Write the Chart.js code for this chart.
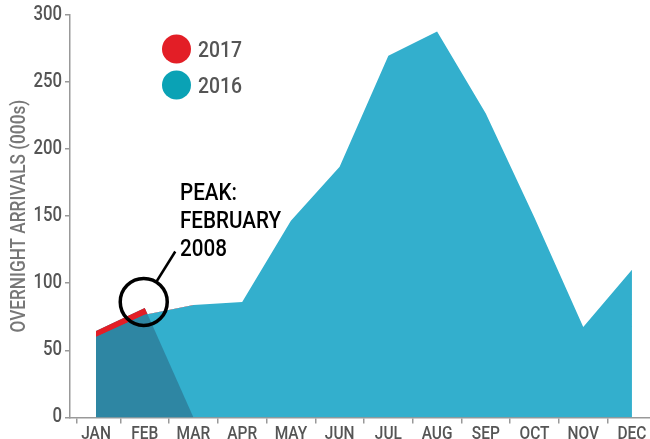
<!DOCTYPE html>
<html>
<head>
<meta charset="utf-8">
<script src="https://cdn.jsdelivr.net/npm/chart.js@4/dist/chart.umd.min.js"></script>
<style>
html,body{margin:0;padding:0;background:#fff;overflow:hidden;}
#wrap{width:650px;height:439px;position:relative;}
</style>
</head>
<body>
<div id="wrap"><canvas id="c" width="650" height="439"></canvas></div>
<script>
const months = ['JAN','FEB','MAR','APR','MAY','JUN','JUL','AUG','SEP','OCT','NOV','DEC'];
const arrivals2016 = [60, 76.5, 83.8, 86, 146.5, 186.7, 269.4, 287.5, 226.5, 148.7, 67.4, 110];
const arrivals2017 = [64.5, 81.6, 0];
const yTicks = [0, 50, 100, 150, 200, 250, 300];
const xBoundaryTicks = [-0.39, 0.5, 1.5, 2.5, 3.5, 4.5, 5.5, 6.5, 7.5, 8.5, 9.5, 10.5];
const seriesNames = ['2017', '2016'];
const annotationLines = ['PEAK:', 'FEBRUARY', '2008'];
const yTitle = 'OVERNIGHT ARRIVALS (000s)';

const FONT = 'Roboto, "DejaVu Sans Condensed", sans-serif';
const SX = 0.86; // horizontal condensing of all text (reference uses a condensed face)
const RED = '#e31e26';
const TEAL = '#33afcd';
const DARK = '#2e86a3';
const LEGEND_TEAL = '#0aa2b5';

const canvas = document.getElementById('c');
const ctx2d = canvas.getContext('2d');
const origFillText = ctx2d.fillText.bind(ctx2d);
ctx2d.fillText = function (text, x, y) {
  this.save();
  this.translate(x, y);
  this.scale(SX, 1);
  origFillText(text, 0, 0);
  this.restore();
};

const toPts = arr => arr.map((v, i) => ({x: i, y: v}));

const overlay = {
  id: 'overlay',
  afterDraw(chart) {
    const ctx = chart.ctx;
    const xs = chart.scales.x, ys = chart.scales.y;
    ctx.save();
    const legendColors = [RED, LEGEND_TEAL];
    seriesNames.forEach((name, i) => {
      const cy = 49 + i * 36;
      ctx.beginPath();
      ctx.arc(176.5, cy, 14.5, 0, Math.PI * 2);
      ctx.fillStyle = legendColors[i];
      ctx.fill();
      ctx.fillStyle = '#555';
      ctx.font = '500 22.5px ' + FONT;
      ctx.textBaseline = 'alphabetic';
      ctx.textAlign = 'left';
      ctx.fillText(name, 198, cy + 8);
    });
    const cx = xs.getPixelForValue(1) - 1;
    const cy = ys.getPixelForValue(arrivals2017[1]) - 6;
    const r = 23.5;
    ctx.beginPath();
    ctx.arc(cx, cy, r, 0, Math.PI * 2);
    ctx.lineWidth = 3.5;
    ctx.strokeStyle = '#000';
    ctx.stroke();
    const a = -58 * Math.PI / 180;
    const sx = cx + r * Math.cos(a), sy = cy + r * Math.sin(a);
    ctx.beginPath();
    ctx.moveTo(sx, sy);
    ctx.lineTo(sx + 36 * Math.cos(a), sy + 36 * Math.sin(a));
    ctx.lineWidth = 2.5;
    ctx.stroke();
    ctx.fillStyle = '#000';
    ctx.font = '500 24px ' + FONT;
    annotationLines.forEach((t, i) => ctx.fillText(t, 180, 200 + i * 28));
    ctx.restore();
  }
};

new Chart(canvas, {
  type: 'line',
  data: {
    datasets: [
      {
        label: '2017 above',
        data: toPts(arrivals2017),
        fill: {target: 2, above: RED, below: 'rgba(0,0,0,0)'},
        borderWidth: 0, pointRadius: 0, tension: 0
      },
      {
        label: '2017',
        data: toPts(arrivals2017),
        fill: 'origin', backgroundColor: DARK,
        borderWidth: 0, pointRadius: 0, tension: 0
      },
      {
        label: '2016',
        data: toPts(arrivals2016),
        fill: 'origin', backgroundColor: TEAL,
        borderWidth: 0, pointRadius: 0, tension: 0
      }
    ]
  },
  options: {
    responsive: false,
    animation: false,
    layout: {padding: {top: 7, right: 0, left: 0, bottom: 0}},
    plugins: {legend: {display: false}, tooltip: {enabled: false}},
    scales: {
      x: {
        type: 'linear',
        min: -0.534, max: 11.37,
        afterBuildTicks(scale) {
          const vals = months.map((m, i) => i).concat(xBoundaryTicks).sort((p, q) => p - q);
          scale.ticks = vals.map(v => ({value: v}));
        },
        afterFit(scale) { scale.height = 21.5; },
        ticks: {
          autoSkip: false, maxRotation: 0, padding: 0,
          color: '#555',
          font: {family: FONT, size: 18, weight: '500'},
          callback: v => Number.isInteger(v) ? months[v] : ''
        },
        grid: {
          drawOnChartArea: false, drawTicks: true, tickLength: 6, lineWidth: 1.5,
          color: c => (c.tick && Number.isInteger(c.tick.value)) ? 'rgba(0,0,0,0)' : '#999'
        },
        border: {display: true, color: '#999', width: 1.5}
      },
      y: {
        min: 0, max: 300,
        afterBuildTicks(scale) { scale.ticks = yTicks.map(v => ({value: v})); },
        afterFit(scale) { scale.width = 70; },
        ticks: {color: '#555', padding: 3, font: {family: FONT, size: 19.5, weight: '500'}},
        grid: {drawOnChartArea: false, drawTicks: true, tickLength: 5, lineWidth: 1.5, color: '#999'},
        border: {display: true, color: '#999', width: 1.5},
        title: {display: true, text: yTitle, color: '#777', font: {family: FONT, size: 20, weight: '500'}, padding: {top: 8, bottom: 0}}
      }
    }
  },
  plugins: [overlay]
});
</script>
</body>
</html>
